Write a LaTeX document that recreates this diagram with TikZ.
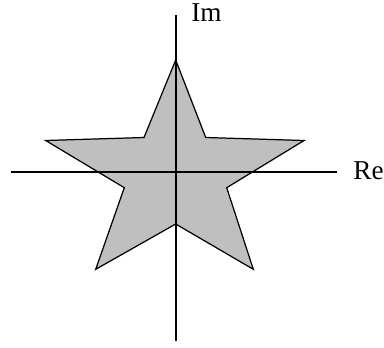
\documentclass[tikz,border=0pt]{standalone}
\usepackage{fontspec}
\setmainfont{Liberation Serif}
\usetikzlibrary{positioning}

\begin{document}
\begin{tikzpicture}[x=0.02cm,y=-0.02cm]

\useasboundingbox (0,0) rectangle (384,347);

% star
\draw [line width=0.7pt, fill=black!25]  (175.7,60) -- (205.7,137.5) -- (304,140.5) -- (226.7,187.7) -- (253.3,269.3) -- (175.7,224) -- (95.7,269.3) -- (124.3,187.7) -- (45.7,140.5) -- (144,137.5) -- cycle;

% axes
\coordinate (reL) at (10.7,172.3);
\coordinate (reR) at (337.3,172.3);
\coordinate (imB) at (175.7,341);
\coordinate (imT) at (175.7,15);

\draw [line width=1.1pt] (reL) -- (reR);
\draw [line width=1.1pt] (imB) -- (imT);

\node[outer sep=0pt, inner sep=0pt, font=\fontsize{15.5}{17}\selectfont] (re) at (368.5,171) {Re};
\node[outer sep=0pt, inner sep=0pt, font=\fontsize{15.5}{17}\selectfont] (im) at (206.5,13) {Im};

\end{tikzpicture}
\end{document}
